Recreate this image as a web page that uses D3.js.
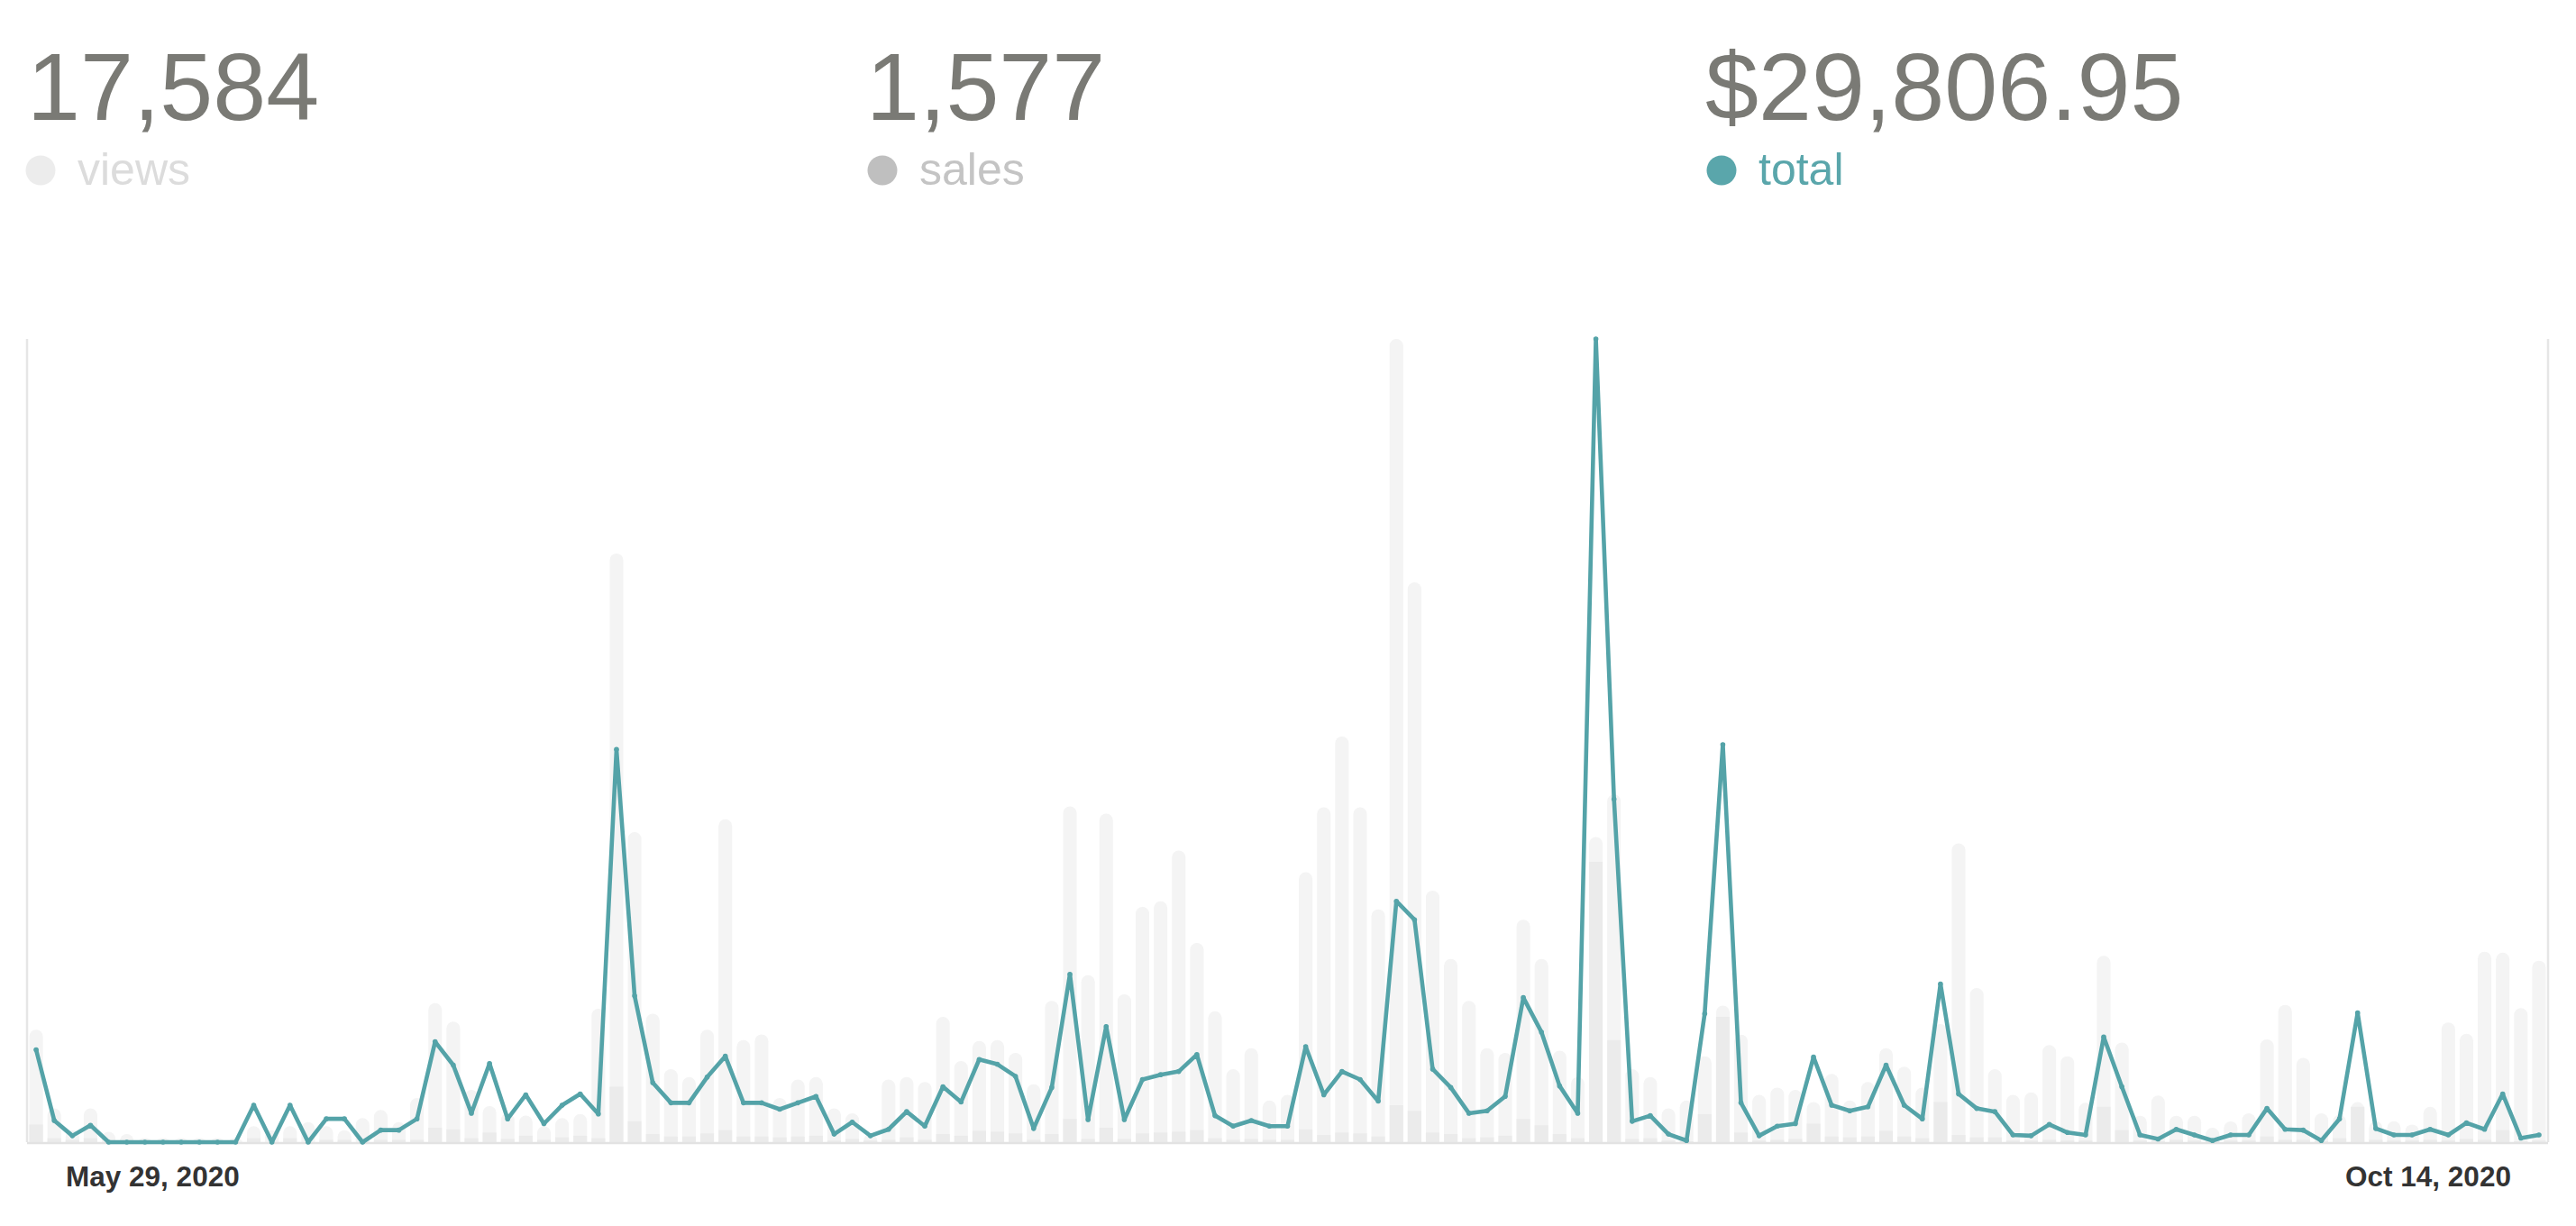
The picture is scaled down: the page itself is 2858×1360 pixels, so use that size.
<!DOCTYPE html>
<html>
<head>
<meta charset="utf-8">
<script src="https://cdn.jsdelivr.net/npm/d3@7"></script>
<style>
  html, body { margin: 0; padding: 0; background: #ffffff; }
  svg { display: block; }
</style>
</head>
<body>
<script>
// ---- data (relative units) ----
const startDate = new Date(2020, 4, 29);   // May 29, 2020
const endDate = new Date(2020, 9, 15);     // exclusive -> last day Oct 14, 2020
const days = d3.timeDay.range(startDate, endDate);

const views = [
  14,4.2,1.5,4.2,1.3,1.0,0.5,0.5,0.5,0.5,0.5,0.5,2.0,1.5,2.0,2.5,2.0,1.5,3.0,4.0,2.5,5.5,17.3,
  15.0,6.5,4.5,3.6,3.3,2.0,3.0,3.5,16.6,73.3,38.6,16.0,9.1,8.1,14.0,40.2,12.7,13.4,5.5,7.8,8.1,4.2,3.6,
  1.0,7.8,8.1,7.5,15.6,10.1,12.6,12.7,11.1,7.2,17.6,41.8,20.8,40.9,18.4,29.3,30.0,36.3,24.8,16.3,9.1,11.7,5.2,
  5.9,33.6,41.7,50.5,41.7,29.0,100,69.7,31.3,22.8,17.6,11.7,11.1,27.7,22.8,11.4,8.1,38,43.3,9.1,8.1,4.2,5.2,
  10.7,17,13.4,5.9,6.8,6.5,5,8.5,5.2,7.5,11.7,9.4,6.8,14.7,37.2,19.2,9.1,5.9,6.2,12.1,10.7,4.9,23.2,
  12.4,3.3,5.8,3.3,3.3,1.8,2.6,3.6,12.8,17.1,10.5,3.6,3.4,5,2.6,2.6,2.2,4.4,14.9,13.5,23.7,23.6,16.7,22.6
];

const sales = [
  2.2,0.5,0.3,0.5,0,0,0,0,0,0,0,0,0.5,0,0.5,0,0.3,0.3,0,0.3,0.3,0.3,1.8,
  1.6,0.5,1.2,0.4,0.8,0.3,0.6,0.8,0.5,6.9,2.6,1.0,0.7,0.7,1.1,1.5,0.7,0.7,0.6,0.7,0.8,0.2,0.4,
  0.2,0.3,0.6,0.3,1.0,0.8,1.4,1.3,1.1,0.3,1.0,2.9,0.4,1.8,0.4,1.1,1.2,1.3,1.5,0.5,0.3,0.4,0.3,
  0.3,1.6,0.9,1.2,1.1,0.7,4.6,3.9,1.2,1.0,0.5,0.6,0.8,2.9,2.1,1.0,0.5,34.9,12.7,0.4,0.5,0.2,0.1,
  3.5,15.6,1.2,0.2,0.3,0.4,2.3,0.7,0.6,0.7,1.4,0.7,0.5,5.0,0.9,0.6,0.6,0.2,0.2,0.3,0.2,0.2,4.4,
  1.5,0.2,0.1,0.3,0.2,0.1,0.2,0.2,0.7,0.3,0.3,0.1,0.5,4.4,0.3,0.2,0.2,0.3,0.2,0.4,0.3,1.5,0.1,0.2
];

const total = [
  11.5,2.7,0.8,2.1,0,0,0,0,0,0,0,0,4.6,0,4.6,0,2.9,2.9,0,1.5,1.5,2.9,12.5,
  9.6,3.6,9.8,2.9,5.9,2.3,4.6,6.0,3.5,48.9,18.2,7.4,4.9,4.9,8.1,10.7,4.9,4.9,4.1,4.9,5.7,1.0,2.5,
  0.8,1.6,3.8,2.0,6.9,5.0,10.3,9.7,8.2,1.7,6.8,20.9,2.8,14.4,2.8,7.8,8.4,8.8,10.9,3.3,2.0,2.7,2.0,
  2.0,11.9,5.9,8.8,7.8,5.1,30.0,27.7,9.1,6.8,3.6,3.9,5.7,18.0,13.7,7.0,3.6,100,42.7,2.6,3.3,1.0,0.2,
  16.0,49.5,4.9,0.8,2.0,2.3,10.6,4.6,3.9,4.4,9.6,4.6,2.9,19.7,6.0,4.2,3.8,0.9,0.8,2.2,1.2,0.9,13.1,
  6.9,0.9,0.4,1.6,0.9,0.2,0.9,0.9,4.2,1.6,1.5,0.2,2.9,16.1,1.7,0.9,0.9,1.6,0.9,2.4,1.6,6.0,0.5,0.9
];

const summaryValues = ["17,584", "1,577", "$29,806.95"];
const summaryLabels = ["views", "sales", "total"];
const tickLabels = ["May 29, 2020", "Oct 14, 2020"];

// ---- layout ----
const W = 2858, H = 1360;
const plot = { left: 30, right: 2827, top: 376, bottom: 1267 };
const colors = {
  number: "#7a7a75",
  viewsDot: "#ececec", viewsText: "#dcdcdc",
  salesDot: "#bfbfbf", salesText: "#c4c4c4",
  totalDot: "#5aa6ab", totalText: "#5aa6ab",
  viewsBar: "#f4f4f4", salesBar: "#ebebeb",
  line: "#54a3a8", axis: "#e6e6e6", tick: "#333333"
};
const font = "'Liberation Sans', Arial, Helvetica, sans-serif";

const svg = d3.select("body").append("svg")
  .attr("width", W).attr("height", H)
  .attr("viewBox", `0 0 ${W} ${H}`);

svg.append("rect").attr("width", W).attr("height", H).attr("fill", "#ffffff");

// ---- summary header ----
const colX = [29, 963, 1894];
const dotCols = [colors.viewsDot, colors.salesDot, colors.totalDot];
const txtCols = [colors.viewsText, colors.salesText, colors.totalText];
const head = svg.append("g").attr("font-family", font);
summaryValues.forEach((v, i) => {
  head.append("text")
    .attr("x", colX[i] + (i === 0 ? 1 : -2)).attr("y", 133)
    .attr("font-size", 106).attr("fill", colors.number)
    .attr("textLength", null)
    .text(v);
  head.append("circle")
    .attr("cx", colX[i] + 16).attr("cy", 189).attr("r", 16.5)
    .attr("fill", dotCols[i]);
  head.append("text")
    .attr("x", colX[i] + 57).attr("y", 205)
    .attr("font-size", 50).attr("fill", txtCols[i])
    .text(summaryLabels[i]);
});

// ---- scales ----
const idx = d3.range(days.length);
const x = d3.scaleBand().domain(idx)
  .range([plot.left, plot.right])
  .paddingInner(0.25).paddingOuter(0.125);
const bw = x.bandwidth();
const cx = i => x(i) + bw / 2;

const yBars = d3.scaleLinear()
  .domain([0, d3.max(views)])
  .range([plot.bottom, plot.top]);
const yTotal = d3.scaleLinear()
  .domain([0, d3.max(total)])
  .range([plot.bottom, plot.top]);

// ---- frame ----
const frame = svg.append("g");
frame.append("line")
  .attr("x1", plot.left).attr("x2", plot.left)
  .attr("y1", plot.top).attr("y2", plot.bottom)
  .attr("stroke", colors.axis).attr("stroke-width", 2.5);
frame.append("line")
  .attr("x1", plot.right).attr("x2", plot.right)
  .attr("y1", plot.top).attr("y2", plot.bottom)
  .attr("stroke", colors.axis).attr("stroke-width", 2.5);

// ---- views bars (rounded tops) ----
function roundTopBar(x0, w, yTop, yBase) {
  const h = yBase - yTop;
  const r = Math.min(w / 2, h);
  if (h <= 0) return "";
  return `M${x0},${yBase} L${x0},${yTop + r} A${w/2},${r} 0 0 1 ${x0 + w},${yTop + r} L${x0 + w},${yBase} Z`;
}
svg.append("g").selectAll("path")
  .data(idx)
  .join("path")
  .attr("d", i => roundTopBar(x(i), bw, yBars(views[i]), plot.bottom))
  .attr("fill", colors.viewsBar);

// ---- sales bars ----
svg.append("g").selectAll("rect")
  .data(idx)
  .join("rect")
  .attr("x", i => x(i))
  .attr("width", bw)
  .attr("y", i => yBars(sales[i]))
  .attr("height", i => plot.bottom - yBars(sales[i]))
  .attr("fill", colors.salesBar);

// ---- baseline ----
svg.append("line")
  .attr("x1", plot.left).attr("x2", plot.right)
  .attr("y1", plot.bottom + 1).attr("y2", plot.bottom + 1)
  .attr("stroke", "#e2e2e2").attr("stroke-width", 2.5);

// ---- total line ----
const line = d3.line()
  .x(i => cx(i))
  .y(i => yTotal(total[i]));
svg.append("path")
  .datum(idx)
  .attr("d", line)
  .attr("fill", "none")
  .attr("stroke", colors.line)
  .attr("stroke-width", 4.6)
  .attr("stroke-linejoin", "round")
  .attr("stroke-linecap", "round");

svg.append("g").selectAll("circle")
  .data(idx)
  .join("circle")
  .attr("cx", i => cx(i))
  .attr("cy", i => yTotal(total[i]))
  .attr("r", 2.8)
  .attr("fill", colors.line);

// ---- date labels ----
const fmt = d3.timeFormat("%b %-d, %Y");
const ticks = svg.append("g")
  .attr("font-family", font)
  .attr("font-weight", "bold")
  .attr("font-size", 31.5)
  .attr("fill", colors.tick);
ticks.append("text")
  .attr("x", cx(0) + 33).attr("y", 1316)
  .attr("text-anchor", "start")
  .text(tickLabels[0] || fmt(days[0]));
ticks.append("text")
  .attr("x", cx(days.length - 1) - 31).attr("y", 1316)
  .attr("text-anchor", "end")
  .text(tickLabels[1] || fmt(days[days.length - 1]));
</script>
</body>
</html>
